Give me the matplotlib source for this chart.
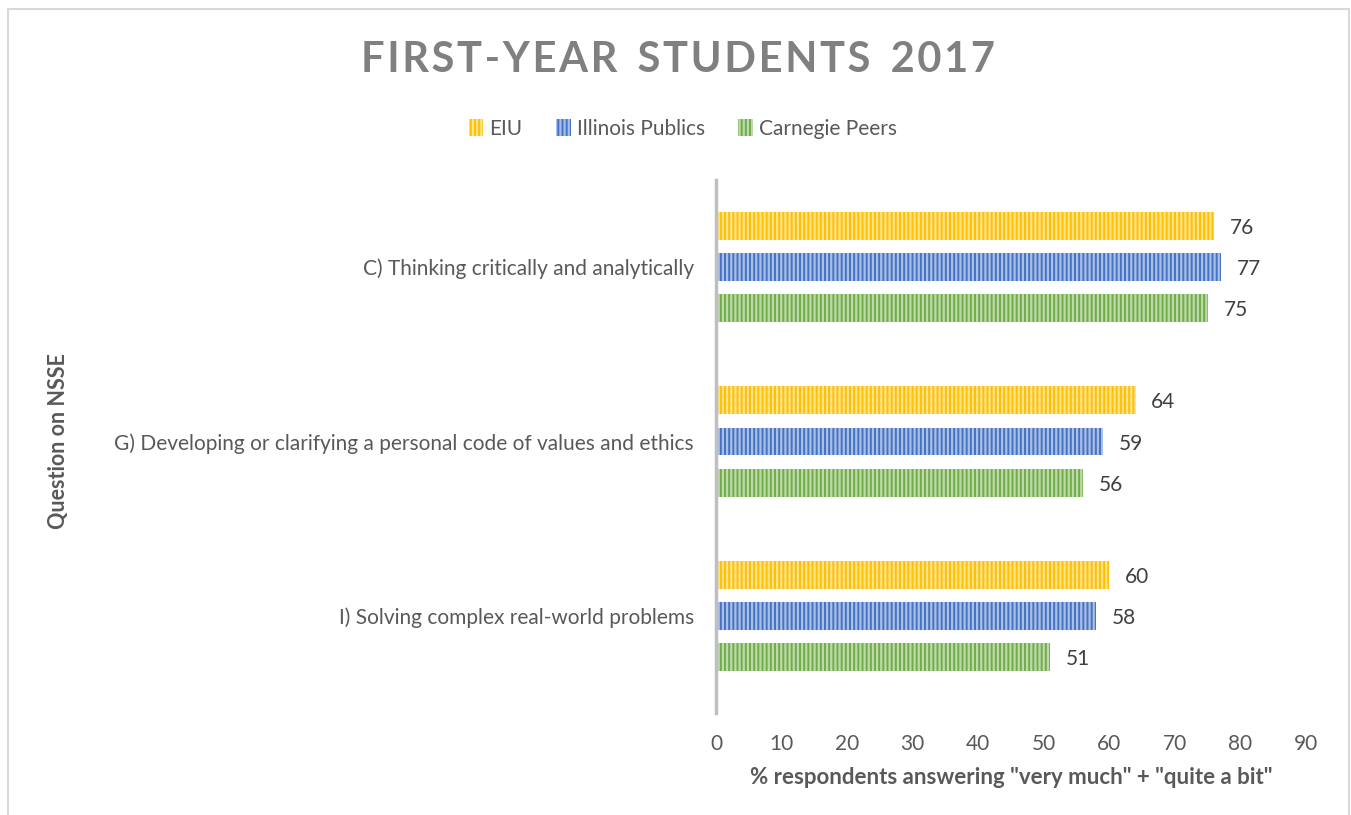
import numpy as np
import matplotlib.pyplot as plt
from matplotlib.patches import Rectangle

plt.rcParams['font.family'] = ['Lato', 'DejaVu Sans']
plt.rcParams['hatch.linewidth'] = 1.6

questions = ["C) Thinking critically and analytically",
             "G) Developing or clarifying a personal code of values and ethics",
             "I) Solving complex real-world problems"]
series = ["EIU", "Illinois Publics", "Carnegie Peers"]
eiu = [76, 64, 60]
illinois = [77, 59, 58]
carnegie = [75, 56, 51]
colors = ["#FFC000", "#4472C4", "#70AD47"]

W, H = 1351, 815
fig = plt.figure(figsize=(W / 100, H / 100), dpi=100)
ax = fig.add_axes([716 / W, 1 - 703 / H, 590 / W, 523 / H])

# outer chart frame
fig.patches.append(Rectangle((7.5 / W, -0.1), 1341 / W, 1 - 8.5 / H + 0.1,
                             transform=fig.transFigure, fill=False,
                             edgecolor="#D9D9D9", linewidth=1.5))

y = np.arange(len(questions))
h = 0.16
off = 0.236
for i, (name, vals, c) in enumerate(zip(series, [eiu, illinois, carnegie], colors)):
    pos = y + (i - 1) * off
    bars = ax.barh(pos, vals, height=h, color=c, label=name,
                   edgecolor=(1, 1, 1, 0.55), linewidth=0, hatch="||||")
    for b, v in zip(bars, vals):
        ax.text(v + 2.4, b.get_y() + h / 2, str(v), va="center_baseline",
                ha="left", fontsize=15, color="#404040")

ax.set_xlim(0, 90)
ax.set_ylim(2.5, -0.5)
ax.set_xticks(range(0, 91, 10))
ax.set_yticks(y)
ax.set_yticklabels(questions)
ax.tick_params(axis="both", length=0, labelsize=15, labelcolor="#595959")
ax.tick_params(axis="x", pad=22)
ax.tick_params(axis="y", pad=16)
for s in ["top", "right", "bottom"]:
    ax.spines[s].set_visible(False)
ax.spines["left"].set_color("#BFBFBF")
ax.spines["left"].set_linewidth(2.5)
ax.spines["left"].set_bounds(2.5 + 0.06, -0.5)

ax.set_xlabel('% respondents answering "very much" + "quite a bit"',
              fontsize=16, fontweight="bold", color="#595959", labelpad=10)
fig.text(58 / W, 1 - 441 / H, "Question on NSSE", rotation=90, ha="center",
         va="center", fontsize=15.5, fontweight="bold", color="#595959")

title = "FIRST-YEAR STUDENTS 2017"
spaced = "\u200a".join(title).replace("\u200a \u200a", "  ")
fig.text(678 / W, 1 - 60 / H, spaced, ha="center", va="center",
         fontsize=30, fontweight="bold", color="#808080")

fig.legend(loc="center", bbox_to_anchor=(683 / W, 1 - 129 / H), ncol=3,
           frameon=False, fontsize=15, handlelength=0.7, handleheight=0.9,
           handletextpad=0.3, columnspacing=1.6, labelcolor="#595959")

fig.savefig("out.png", dpi=100)
